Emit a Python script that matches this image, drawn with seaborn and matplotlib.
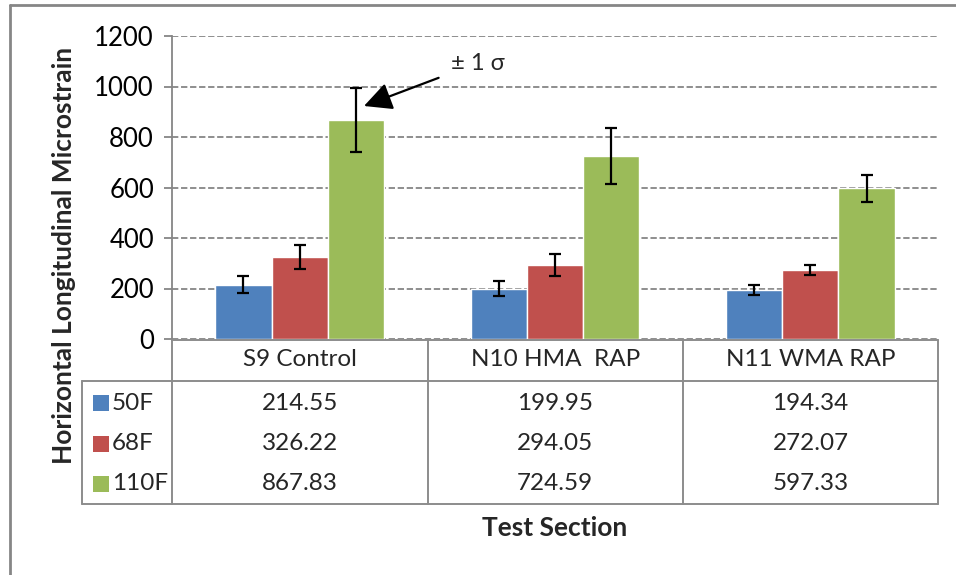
import matplotlib
matplotlib.use("Agg")
import matplotlib.pyplot as plt
import seaborn as sns
import pandas as pd
import numpy as np
from matplotlib.patches import Rectangle
from matplotlib.lines import Line2D

# ---- data ----
sections = ["S9 Control", "N10 HMA  RAP", "N11 WMA RAP"]
temps = ["50F", "68F", "110F"]
mean_50F = [214.55, 199.95, 194.34]
mean_68F = [326.22, 294.05, 272.07]
mean_110F = [867.83, 724.59, 597.33]
sd_50F = [33, 31, 20]
sd_68F = [48, 44, 20]
sd_110F = [126, 110, 53]
yticks = [0, 200, 400, 600, 800, 1000, 1200]
colors = ["#4F81BD", "#C0504D", "#9BBB59"]

means = [mean_50F, mean_68F, mean_110F]
sds = [sd_50F, sd_68F, sd_110F]
rows = []
for t, m, s in zip(temps, means, sds):
    for sec, mv, sv in zip(sections, m, s):
        rows.append({"Section": sec, "Temp": t, "Value": mv, "SD": sv})
df = pd.DataFrame(rows)

sns.set_theme(style="white")
FONT = ["Lato", "DejaVu Sans"]
plt.rcParams["font.family"] = FONT

W, H = 956, 575
fig = plt.figure(figsize=(W / 100, H / 100), dpi=100)

def fx(px):
    return px / W

def fy(py):
    return 1 - py / H

L, R, T, B = 172, 938, 36, 339
ax = fig.add_axes([fx(L), fy(B), fx(R) - fx(L), fy(T) - fy(B)])

sns.barplot(data=df, x="Section", y="Value", hue="Temp", order=sections,
            hue_order=temps, palette=colors, errorbar=None, width=0.66,
            saturation=1, ax=ax, legend=False, zorder=3)

# error bars from bar geometry
bars = [p for p in ax.patches if isinstance(p, Rectangle)]
for i, t in enumerate(temps):
    for j, sec in enumerate(sections):
        p = bars[i * len(sections) + j]
        cx = p.get_x() + p.get_width() / 2
        ax.errorbar(cx, p.get_height(), yerr=sds[i][j], fmt="none",
                    ecolor="black", elinewidth=1.6, capsize=4, capthick=1.6,
                    zorder=4)

ax.set_xlim(-0.5, 2.5)
ax.set_ylim(0, 1200)
ax.set_yticks(yticks)
ax.set_yticklabels([str(v) for v in yticks], fontsize=18.5, color="black")
ax.set_xticks([])
ax.set_xlabel("")
ax.set_ylabel("")
ax.yaxis.grid(True, color="#868686", linestyle=(0, (3.5, 1.5)), linewidth=1.3, zorder=0)
ax.set_axisbelow(True)
for s in ["top", "right", "bottom"]:
    ax.spines[s].set_visible(False)
ax.spines["left"].set_color("#868686")
ax.spines["left"].set_linewidth(1.3)
ax.tick_params(axis="y", which="major", left=True, length=6, width=1.3,
               color="#868686", pad=7, direction="out")

# annotation
ax.annotate("± 1 σ", xy=(fx(364), fy(106)), xycoords="figure fraction",
            xytext=(fx(451), fy(63)), textcoords="figure fraction",
            fontsize=17, va="center", ha="left",
            arrowprops=dict(arrowstyle="-|>,head_length=1.0,head_width=0.5",
                            color="black", lw=1.6, shrinkA=7, shrinkB=0))

# ---- data table ----
lc = "#8C8C8C"
lw = 1.4
cols = [172, 427.5, 683, 938]
y_top, y_hdr, y_bot = 340, 381, 504
tleft = 82

def hline(x0, x1, y):
    fig.add_artist(Line2D([fx(x0), fx(x1)], [fy(y), fy(y)], color=lc, lw=lw))

def vline(x, y0, y1):
    fig.add_artist(Line2D([fx(x), fx(x)], [fy(y0), fy(y1)], color=lc, lw=lw))

hline(cols[0], cols[-1], y_top)
hline(tleft, cols[-1], y_hdr)
hline(tleft, cols[-1], y_bot)
for c in cols:
    vline(c, y_top, y_bot)
vline(tleft, y_hdr, y_bot)

for j, sec in enumerate(sections):
    cx = (cols[j] + cols[j + 1]) / 2
    fig.text(fx(cx), fy(360), sec, ha="center", va="center", fontsize=17.5)

row_y = [403, 444, 484]
for i, t in enumerate(temps):
    fig.add_artist(Rectangle((fx(93), fy(row_y[i] + 8)), fx(16), 16 / H,
                             transform=fig.transFigure, facecolor=colors[i],
                             edgecolor="none"))
    fig.text(fx(112), fy(row_y[i]), t, ha="left", va="center", fontsize=17.5)
    for j in range(len(sections)):
        cx = (cols[j] + cols[j + 1]) / 2
        fig.text(fx(cx), fy(row_y[i]), f"{means[i][j]:.2f}", ha="center",
                 va="center", fontsize=17.5)

# axis titles
fig.text(fx(555), fy(528), "Test Section", ha="center", va="center",
         fontsize=19, fontweight="bold")
fig.text(fx(64), fy(255), "Horizontal Longitudinal Microstrain", ha="center",
         va="center", rotation=90, fontsize=19, fontweight="bold")

# chart frame
fig.add_artist(Line2D([fx(10), fx(10)], [fy(5), 0], color="#868686", lw=2))
fig.add_artist(Line2D([fx(10), 1], [fy(5), fy(5)], color="#868686", lw=2))

fig.savefig("out.png", dpi=100)
